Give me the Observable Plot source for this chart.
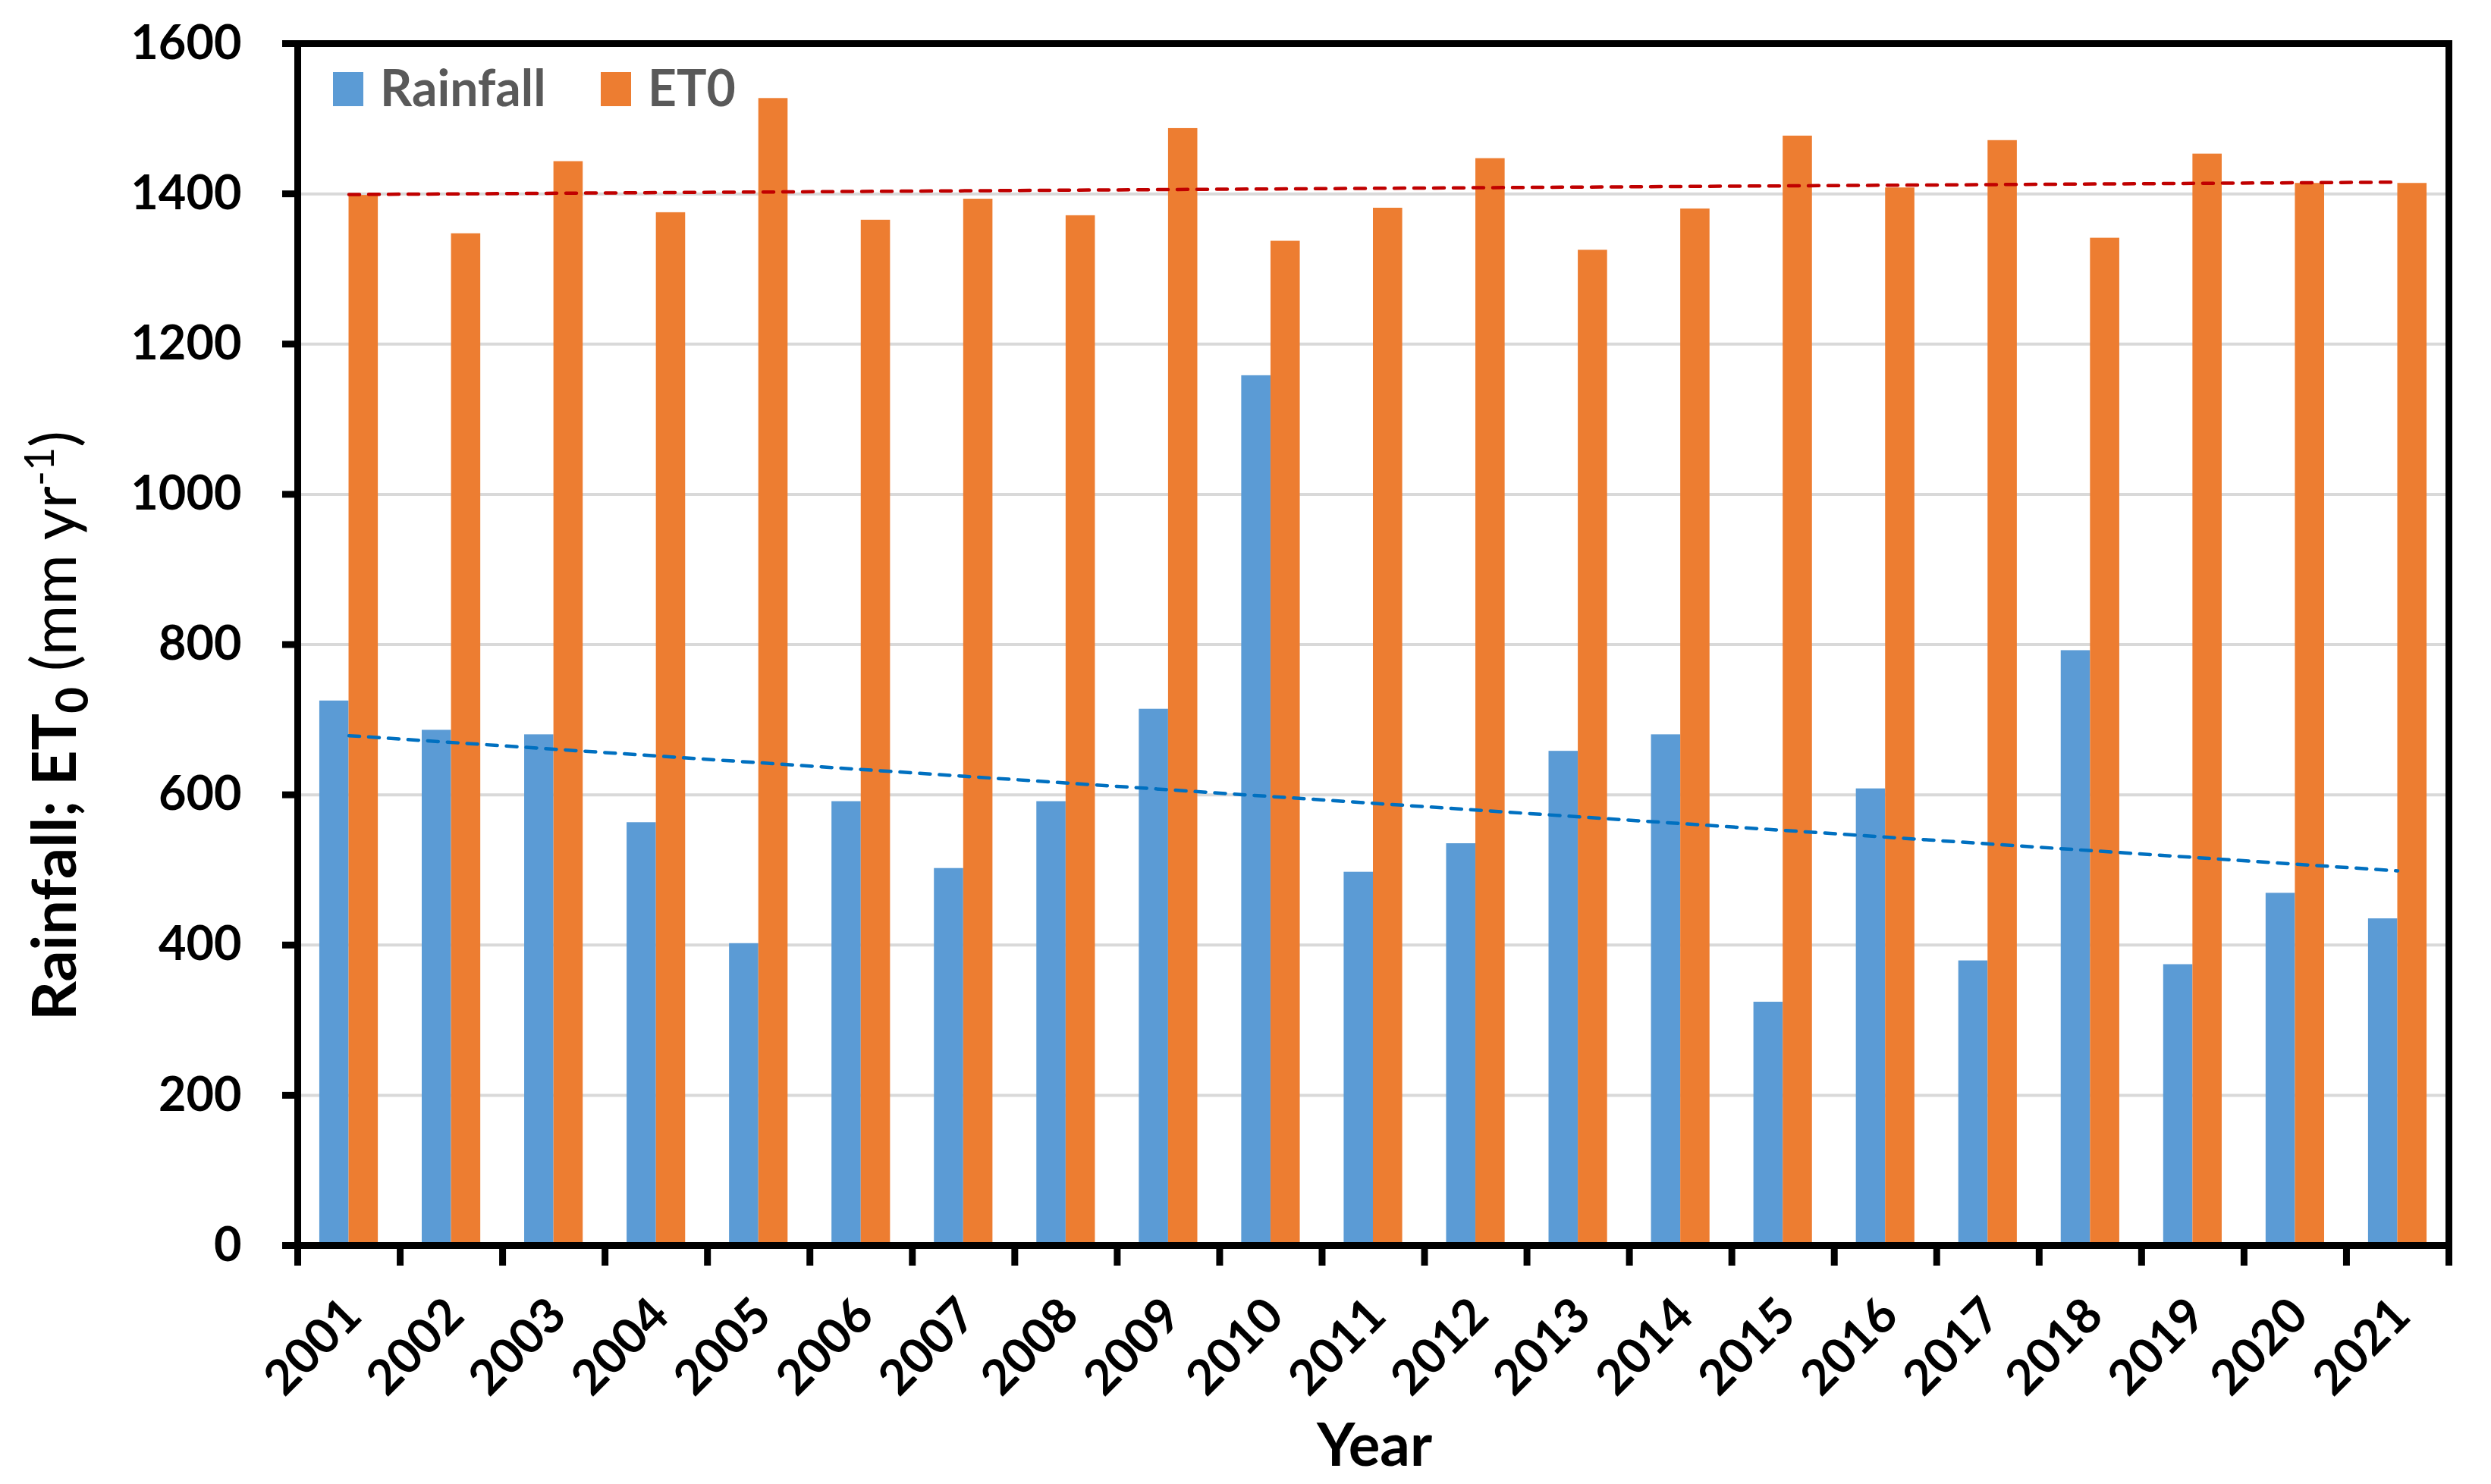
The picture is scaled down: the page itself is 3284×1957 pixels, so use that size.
<!DOCTYPE html>
<html>
<head>
<meta charset="utf-8">
<script src="https://cdn.jsdelivr.net/npm/d3@7"></script>
<script src="https://cdn.jsdelivr.net/npm/@observablehq/plot@0.6"></script>
<style>
  html, body { margin: 0; padding: 0; background: #fff; }
  #chart { width: 3284px; height: 1957px; }
</style>
</head>
<body>
<div id="chart"></div>
<script>
// ---- data ----
const years = [2001, 2002, 2003, 2004, 2005, 2006, 2007, 2008, 2009, 2010, 2011,
               2012, 2013, 2014, 2015, 2016, 2017, 2018, 2019, 2020, 2021];
const rainfall = [725, 686, 680, 563, 402, 591, 502, 591, 714, 1158, 497,
                  535, 658, 680, 324, 608, 379, 792, 374, 469, 435];
const et0 = [1398, 1347, 1443, 1375, 1527, 1365, 1393, 1371, 1487, 1337, 1381,
             1447, 1325, 1380, 1477, 1408, 1471, 1341, 1453, 1414, 1414];
const yTicks = [0, 200, 400, 600, 800, 1000, 1200, 1400, 1600];
const yearLabels = years.map(String);
const seriesNames = ["Rainfall", "ET0"];
const seriesColors = ["#5B9BD5", "#ED7D31"];
const trendColors = ["#0070C0", "#C00000"];

// ---- table for the library ----
const table = years.flatMap((year, i) => [
  {year, series: "Rainfall", value: rainfall[i]},
  {year, series: "ET0", value: et0[i]}
]);

// Excel-like clustered column layout: gap width 150%
const gapWidth = 1.5;
const barW = 1 / (2 + gapWidth);
const slot = {Rainfall: [-barW, 0], ET0: [0, barW]};
const boundaries = d3.range(years[0] - 0.5, years[years.length - 1] + 1, 1);

const font = "Lato, 'Liberation Sans', Arial, sans-serif";

const plot = Plot.plot({
  width: 3284,
  height: 1957,
  marginLeft: 392,
  marginRight: 56,
  marginTop: 57,
  marginBottom: 315,
  style: {fontFamily: font, background: "white", color: "black", overflow: "visible"},
  x: {domain: [years[0] - 0.5, years[years.length - 1] + 0.5], label: null},
  y: {domain: [0, 1600], label: null},
  color: {domain: seriesNames, range: seriesColors},
  marks: [
    Plot.ruleY(yTicks, {stroke: "#d9d9d9", strokeWidth: 4}),
    Plot.rectY(table, {
      x1: d => d.year + slot[d.series][0],
      x2: d => d.year + slot[d.series][1],
      y1: 0,
      y2: "value",
      fill: "series"
    }),
    Plot.linearRegressionY(table.filter(d => d.series === "ET0"), {
      x: "year", y: "value", ci: 0,
      stroke: trendColors[1], strokeWidth: 4.5, strokeDasharray: "14 12"
    }),
    Plot.linearRegressionY(table.filter(d => d.series === "Rainfall"), {
      x: "year", y: "value", ci: 0,
      stroke: trendColors[0], strokeWidth: 4.5, strokeDasharray: "14 12"
    }),
    Plot.frame({stroke: "black", strokeWidth: 9}),
    Plot.axisY({
      ticks: yTicks, tickSize: 20, tickPadding: 54, strokeWidth: 9,
      tickFormat: d => String(d),
      fontSize: 63, fontWeight: "bold", label: null
    }),
    Plot.axisX({
      ticks: boundaries, tickSize: 27, strokeWidth: 9,
      tickFormat: () => "", label: null, anchor: "bottom"
    }),
    Plot.text(yearLabels, {
      x: d => +d, text: d => d,
      frameAnchor: "bottom", dy: 96, dx: 20,
      rotate: -45, textAnchor: "end", lineAnchor: "bottom",
      fontSize: 64, fontWeight: "bold", fill: "black"
    })
  ]
});

document.getElementById("chart").appendChild(plot);
const svg = d3.select(plot);

// legend inside the plot area
const lg = svg.append("g")
  .attr("font-family", font)
  .attr("font-weight", "bold")
  .attr("font-size", 66)
  .attr("text-anchor", "start")
  .attr("fill", "#595959");
const legendX = [439, 792];
seriesNames.forEach((name, i) => {
  lg.append("rect")
    .attr("x", legendX[i]).attr("y", 95)
    .attr("width", 40).attr("height", 45)
    .attr("fill", seriesColors[i]);
  lg.append("text")
    .attr("x", legendX[i] + 62).attr("y", 140)
    .attr("text-anchor", "start")
    .text(name);
});

// y-axis title with subscript / superscript
const yt = svg.append("text")
  .attr("transform", "translate(100,957) rotate(-90)")
  .attr("text-anchor", "middle")
  .attr("font-family", font)
  .attr("font-size", 81)
  .attr("fill", "black");
yt.append("tspan").attr("font-weight", "bold").text("Rainfall; ET");
yt.append("tspan").attr("font-weight", "bold").attr("font-size", 60).attr("dy", 16).text("0");
yt.append("tspan").attr("dy", -16).text(" (mm yr");
yt.append("tspan").attr("font-size", 54).attr("dy", -29).text("-1");
yt.append("tspan").attr("dy", 29).text(")");

// x-axis title
svg.append("text")
  .attr("x", 1812).attr("y", 1933)
  .attr("text-anchor", "middle")
  .attr("font-family", font)
  .attr("font-weight", "bold")
  .attr("font-size", 78)
  .attr("fill", "black")
  .text("Year");
</script>
</body>
</html>
